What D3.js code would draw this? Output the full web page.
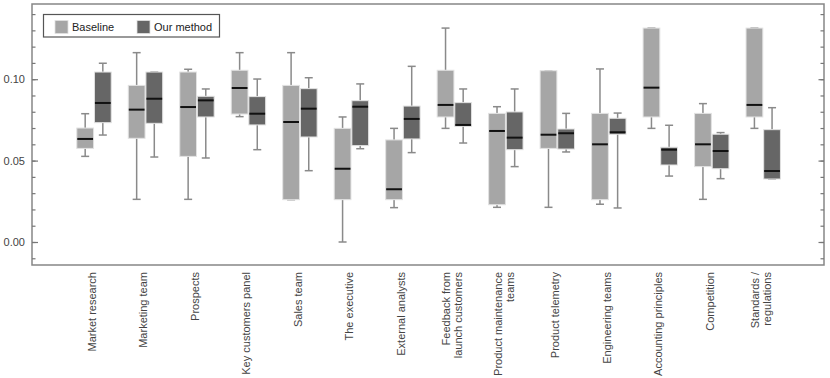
<!DOCTYPE html>
<html>
<head>
<meta charset="utf-8">
<script src="https://cdn.jsdelivr.net/npm/d3@7"></script>
<style>
  html, body { margin: 0; padding: 0; background: #fff; }
  svg { display: block; font-family: "Liberation Sans", Arial, sans-serif; }
</style>
</head>
<body>
<svg id="chart" width="830" height="378"></svg>
<script>
// ---- data ----
const categories = [
  ["Market research"],
  ["Marketing team"],
  ["Prospects"],
  ["Key customers panel"],
  ["Sales team"],
  ["The executive"],
  ["External analysts"],
  ["Feedback from", "launch customers"],
  ["Product maintenance", "teams"],
  ["Product telemetry"],
  ["Engineering teams"],
  ["Accounting principles"],
  ["Competition"],
  ["Standards /", "regulations"]
];
const seriesNames = ["Baseline", "Our method"];
// [whisker low, q1, median, q3, whisker high]
const baselineStats = [
  [0.0526, 0.0575, 0.0633, 0.0700, 0.0788],
  [0.0262, 0.0637, 0.0813, 0.0962, 0.1163],
  [0.0262, 0.0526, 0.0829, 0.1044, 0.1061],
  [0.0770, 0.0786, 0.0946, 0.1055, 0.1163],
  [0.0260, 0.0260, 0.0737, 0.0962, 0.1163],
  [0.0000, 0.0260, 0.0450, 0.0698, 0.0768],
  [0.0211, 0.0260, 0.0324, 0.0627, 0.0698],
  [0.0698, 0.0768, 0.0842, 0.1055, 0.1314],
  [0.0213, 0.0229, 0.0682, 0.0790, 0.0831],
  [0.0213, 0.0575, 0.0659, 0.1052, 0.1052],
  [0.0232, 0.0260, 0.0600, 0.0790, 0.1063],
  [0.0698, 0.0768, 0.0948, 0.1314, 0.1314],
  [0.0262, 0.0463, 0.0600, 0.0790, 0.0850],
  [0.0698, 0.0768, 0.0842, 0.1314, 0.1314]
];
const ourStats = [
  [0.0657, 0.0733, 0.0854, 0.1044, 0.1098],
  [0.0522, 0.0729, 0.0880, 0.1044, 0.1044],
  [0.0516, 0.0768, 0.0870, 0.0895, 0.0940],
  [0.0567, 0.0719, 0.0788, 0.0893, 0.1001],
  [0.0438, 0.0645, 0.0819, 0.0942, 0.1009],
  [0.0573, 0.0592, 0.0831, 0.0868, 0.0971],
  [0.0549, 0.0633, 0.0756, 0.0835, 0.1079],
  [0.0608, 0.0711, 0.0719, 0.0856, 0.0940],
  [0.0463, 0.0567, 0.0641, 0.0799, 0.0940],
  [0.0553, 0.0571, 0.0668, 0.0694, 0.0790],
  [0.0209, 0.0662, 0.0674, 0.0760, 0.0792],
  [0.0405, 0.0473, 0.0567, 0.0582, 0.0717],
  [0.0389, 0.0450, 0.0559, 0.0662, 0.0672],
  [0.0387, 0.0387, 0.0436, 0.0690, 0.0825]
];
const yMinorTicks = [-0.01, 0.00, 0.01, 0.02, 0.03, 0.04, 0.05, 0.06, 0.07, 0.08, 0.09, 0.10, 0.11, 0.12, 0.13, 0.14];
const yMajorTicks = [0.00, 0.05, 0.10];
const yTickLabels = ["0.00", "0.05", "0.10"];

// ---- layout ----
const svg = d3.select("#chart");
const frame = { left: 32, top: 4, right: 824, bottom: 265 };
const colors = { "Baseline": "#a6a6a6", "Our method": "#666666" };

const x = d3.scaleBand()
  .domain(categories.map((d, i) => i))
  .range([68.26, 788.98])
  .paddingInner(0).paddingOuter(0);
const xs = d3.scaleBand()
  .domain(seriesNames)
  .range([-17.2, 17.2])
  .paddingInner(0.05);
const y = d3.scaleLinear()
  .domain([-0.01413, 0.14619])
  .range([frame.bottom, frame.top]);

// frame
svg.append("rect")
  .attr("x", frame.left).attr("y", frame.top)
  .attr("width", frame.right - frame.left).attr("height", frame.bottom - frame.top)
  .attr("fill", "none").attr("stroke", "#868686").attr("stroke-width", 1.5);

// axes (ticks inward)
function styleAxis(g) {
  g.select(".domain").remove();
  g.selectAll(".tick line").attr("stroke", "#777").attr("stroke-width", 1.2);
}
svg.append("g").attr("transform", `translate(${frame.left},0)`)
  .call(d3.axisLeft(y).tickValues(yMinorTicks).tickSizeInner(-3.5).tickSizeOuter(0).tickFormat(""))
  .call(styleAxis);
const yLeft = svg.append("g").attr("transform", `translate(${frame.left},0)`)
  .call(d3.axisLeft(y).tickValues(yMajorTicks).tickSizeInner(-6).tickSizeOuter(0).tickPadding(7)
    .tickFormat((d, i) => yTickLabels[i]))
  .call(styleAxis);
yLeft.selectAll(".tick text")
  .attr("fill", "#444").style("font-size", "11px")
  .style("font-family", "'Liberation Sans', Arial, sans-serif");
svg.append("g").attr("transform", `translate(${frame.right},0)`)
  .call(d3.axisRight(y).tickValues(yMinorTicks).tickSizeInner(-3.5).tickSizeOuter(0).tickFormat(""))
  .call(styleAxis);
svg.append("g").attr("transform", `translate(${frame.right},0)`)
  .call(d3.axisRight(y).tickValues(yMajorTicks).tickSizeInner(-5.5).tickSizeOuter(0).tickFormat(""))
  .call(styleAxis);

// boxes
const groups = svg.append("g").selectAll("g.group")
  .data(categories.map((c, i) => i))
  .join("g")
  .attr("transform", i => `translate(${x(i) + x.bandwidth() / 2},0)`);

const seriesData = i => [
  { name: "Baseline", s: baselineStats[i] },
  { name: "Our method", s: ourStats[i] }
];

const boxes = groups.selectAll("g.box")
  .data(i => seriesData(i))
  .join("g")
  .attr("transform", d => `translate(${xs(d.name)},0)`);

const bw = xs.bandwidth();
const capW = 8;
const whiskerColor = "#8a8a8a";

// whiskers
boxes.append("line")
  .attr("x1", bw / 2).attr("x2", bw / 2)
  .attr("y1", d => y(d.s[0])).attr("y2", d => y(d.s[1]))
  .attr("stroke", whiskerColor).attr("stroke-width", 1.5);
boxes.append("line")
  .attr("x1", bw / 2).attr("x2", bw / 2)
  .attr("y1", d => y(d.s[3])).attr("y2", d => y(d.s[4]))
  .attr("stroke", whiskerColor).attr("stroke-width", 1.5);
boxes.append("line")
  .attr("x1", bw / 2 - capW / 2).attr("x2", bw / 2 + capW / 2)
  .attr("y1", d => y(d.s[0])).attr("y2", d => y(d.s[0]))
  .attr("stroke", whiskerColor).attr("stroke-width", 1.5);
boxes.append("line")
  .attr("x1", bw / 2 - capW / 2).attr("x2", bw / 2 + capW / 2)
  .attr("y1", d => y(d.s[4])).attr("y2", d => y(d.s[4]))
  .attr("stroke", whiskerColor).attr("stroke-width", 1.5);
// box
boxes.append("rect")
  .attr("x", 0).attr("width", bw)
  .attr("y", d => y(d.s[3]))
  .attr("height", d => Math.max(0.5, y(d.s[1]) - y(d.s[3])))
  .attr("fill", d => colors[d.name])
  .attr("stroke", "#e2e2e2").attr("stroke-width", 1);
// median
boxes.append("line")
  .attr("x1", 0.5).attr("x2", bw - 0.5)
  .attr("y1", d => y(d.s[2])).attr("y2", d => y(d.s[2]))
  .attr("stroke", "#111").attr("stroke-width", 2);

// x labels
const lblG = svg.append("g");
categories.forEach((lines, i) => {
  const cx = x(i) + x.bandwidth() / 2 - 2;
  lines.forEach((t, j) => {
    const off = (j - (lines.length - 1) / 2) * 12;
    lblG.append("text")
      .attr("transform", `translate(${cx + off},272) rotate(-90)`)
      .attr("text-anchor", "end")
      .attr("dy", "0.35em")
      .attr("fill", "#444")
      .style("font-size", "11px")
      .text(t);
  });
});

// legend
const leg = svg.append("g");
leg.append("rect")
  .attr("x", 43.5).attr("y", 14.5).attr("width", 176).attr("height", 22.5)
  .attr("fill", "#fff").attr("stroke", "#555").attr("stroke-width", 1.2);
const legX = [55, 137];
seriesNames.forEach((n, i) => {
  leg.append("rect")
    .attr("x", legX[i]).attr("y", 20.5).attr("width", 13).attr("height", 13)
    .attr("fill", colors[n]).attr("stroke", "#e2e2e2").attr("stroke-width", 0.8);
  leg.append("text")
    .attr("x", legX[i] + 17).attr("y", 30.5)
    .attr("fill", "#222")
    .style("font-size", "11px")
    .text(n);
});
</script>
</body>
</html>
